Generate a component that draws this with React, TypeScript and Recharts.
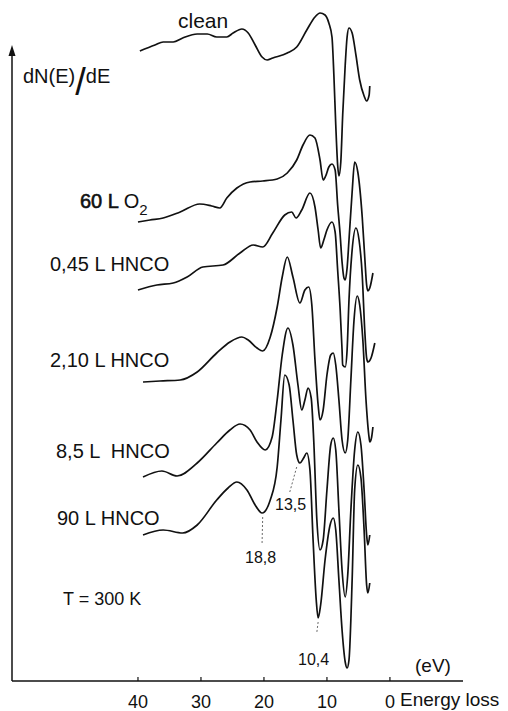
import { LineChart, Line, XAxis, YAxis, ReferenceLine, ReferenceDot } from "recharts";

type Pt = [number, number];

const FONT = "'Liberation Sans', Arial, sans-serif";
const INK = "#111";

const energyTicks = [40, 30, 20, 10, 0];

// [energy loss (eV), dN(E)/dE incl. vertical offset]
const clean: Pt[] = [
  [39.7, 630], [37.3, 636], [36.0, 639], [34.4, 639], [32.9, 643], [30.6, 647], [29.0, 647],
  [27.5, 644], [25.9, 644], [24.9, 648], [23.5, 652], [22.5, 648], [21.4, 636], [20.3, 624],
  [19.5, 621], [18.6, 623], [16.3, 628], [14.8, 634], [13.2, 651], [11.9, 664], [11.1, 668],
  [10.3, 666], [9.7, 658], [9.2, 644], [8.9, 606], [8.6, 556], [8.3, 516], [8.1, 505],
  [7.8, 519], [7.5, 566], [7.1, 616], [6.8, 644], [6.5, 653], [6.0, 648], [5.4, 626],
  [4.8, 601], [4.1, 585], [3.7, 580], [3.3, 586], [3.2, 595],
];

const o2_60L: Pt[] = [
  [40.0, 459], [38.1, 461], [36.0, 463], [33.3, 469], [30.2, 477], [28.3, 475], [27.0, 473],
  [25.9, 483], [24.3, 493], [22.2, 499], [20.2, 500], [17.9, 502], [16.3, 508], [14.8, 521],
  [13.8, 536], [12.7, 546], [11.9, 543], [11.1, 521], [10.6, 501], [10.2, 505], [9.7, 514],
  [9.2, 517], [8.7, 511], [8.3, 476], [7.9, 446], [7.6, 419], [7.3, 403], [7.1, 401],
  [6.8, 413], [6.5, 441], [6.0, 489], [5.6, 519], [5.1, 509], [4.4, 464], [4.0, 424],
  [3.7, 396], [3.5, 390], [3.2, 393], [2.7, 408],
];

const hnco_045L: Pt[] = [
  [40.0, 391], [37.0, 396], [34.4, 398], [32.2, 404], [29.7, 414], [26.5, 416], [23.8, 428],
  [21.7, 436], [20.2, 434], [18.6, 448], [16.7, 466], [15.6, 469], [14.9, 463], [14.0, 471],
  [12.7, 488], [11.9, 474], [11.4, 451], [11.0, 433], [10.5, 441], [10.0, 451], [9.2, 459],
  [8.7, 449], [8.3, 411], [7.9, 371], [7.6, 331], [7.5, 316], [7.1, 314], [6.8, 331],
  [6.5, 381], [6.0, 431], [5.4, 453], [4.9, 441], [4.4, 406], [4.0, 351], [3.7, 323],
  [3.5, 319], [3.0, 323], [2.4, 338],
];

const hnco_210L: Pt[] = [
  [39.2, 299], [36.5, 300], [33.3, 301], [30.6, 309], [27.5, 328], [25.4, 339], [23.5, 344],
  [22.5, 341], [21.1, 333], [20.2, 330], [19.0, 344], [17.9, 374], [17.1, 404], [16.3, 424],
  [15.4, 404], [14.3, 378], [13.5, 391], [12.9, 394], [12.4, 376], [11.9, 321], [11.4, 276],
  [11.1, 261], [10.6, 271], [10.0, 306], [9.4, 326], [9.0, 328], [8.6, 316], [8.1, 281],
  [7.6, 241], [7.1, 228], [6.7, 241], [6.2, 301], [5.7, 361], [5.2, 385], [4.8, 376],
  [4.3, 341], [3.8, 281], [3.3, 243], [3.2, 239], [2.9, 244], [2.7, 254],
];

const hnco_85L: Pt[] = [
  [39.2, 204], [36.2, 210], [33.8, 205], [30.6, 218], [27.5, 238], [25.4, 251], [23.8, 257],
  [22.2, 251], [21.1, 239], [19.8, 231], [18.7, 244], [17.9, 281], [17.1, 326], [16.2, 353],
  [15.4, 336], [14.6, 296], [14.0, 271], [13.5, 281], [13.0, 293], [12.5, 283], [12.1, 241],
  [11.6, 161], [11.1, 131], [10.6, 141], [10.0, 191], [9.4, 236], [9.0, 243], [8.6, 231],
  [8.1, 171], [7.6, 111], [7.1, 84], [6.7, 106], [6.2, 171], [5.6, 231], [5.1, 249],
  [4.6, 236], [4.1, 191], [3.7, 146], [3.5, 136], [3.2, 146],
];

const hnco_90L: Pt[] = [
  [39.2, 146], [36.0, 151], [32.9, 148], [30.6, 156], [27.5, 181], [25.7, 193], [24.3, 199],
  [22.7, 191], [21.4, 176], [20.3, 168], [19.0, 181], [17.9, 214], [17.3, 261], [16.7, 306],
  [16.0, 296], [15.4, 261], [14.8, 226], [14.3, 218], [13.7, 223], [13.2, 228], [12.7, 211],
  [12.2, 141], [11.7, 81], [11.4, 63], [11.0, 76], [10.3, 121], [9.5, 156], [9.0, 163],
  [8.6, 151], [8.1, 101], [7.6, 51], [7.1, 19], [6.8, 13], [6.5, 21], [6.0, 101],
  [5.6, 191], [5.1, 216], [4.6, 203], [4.1, 151], [3.7, 96], [3.5, 88], [3.2, 98],
];

const spectra = [clean, o2_60L, hnco_045L, hnco_210L, hnco_85L, hnco_90L];

// dashed leaders from curve features to their labels
const leaders: Pt[][] = [
  [[14.8, 214], [15.9, 189]],
  [[20.2, 164], [20.3, 138]],
  [[11.4, 59], [11.6, 49]],
];

const toRows = (pts: Pt[]) => pts.map(([e, v]) => ({ e, v }));

const Arrow = (p: any) => (
  <path d={`M${p.cx},${p.cy} l-3.5,11 l7,0 z`} fill={INK} />
);

export default function App() {
  return (
    <div style={{ position: "absolute", left: 0, top: 0, width: 508, height: 711, background: "#fff" }}>
      <LineChart width={508} height={711} margin={{ top: 1, right: 45, bottom: 0, left: 12 }}>
        <XAxis
          type="number"
          dataKey="e"
          domain={[-11.6, 60]}
          reversed
          allowDataOverflow
          ticks={energyTicks}
          tickLine={false}
          tickSize={0}
          tickMargin={14}
          height={30}
          axisLine={{ stroke: INK, strokeWidth: 1.5 }}
          tick={{ fill: INK, fontSize: 18, fontFamily: FONT }}
        />
        <YAxis hide type="number" domain={[0, 680]} allowDataOverflow />

        <ReferenceLine
          segment={[{ x: 60, y: 0 }, { x: 60, y: 630 }]}
          stroke={INK}
          strokeWidth={1.5}
          ifOverflow="visible"
        />
        <ReferenceDot x={60} y={636} r={0} shape={Arrow} ifOverflow="visible" />

        {energyTicks.map((t) => (
          <ReferenceLine
            key={t}
            segment={[{ x: t, y: 0 }, { x: t, y: 4 }]}
            stroke={INK}
            strokeWidth={1.2}
          />
        ))}

        {leaders.map((seg, i) => (
          <ReferenceLine
            key={i}
            segment={seg.map(([x, y]) => ({ x, y }))}
            stroke="#444"
            strokeWidth={0.8}
            strokeDasharray="2 2"
          />
        ))}

        {spectra.map((pts, i) => (
          <Line
            key={i}
            data={toRows(pts)}
            dataKey="v"
            type="monotone"
            dot={false}
            stroke={INK}
            strokeWidth={1.7}
            isAnimationActive={false}
          />
        ))}
      </LineChart>

      <svg
        width={508}
        height={711}
        style={{ position: "absolute", left: 0, top: 0, pointerEvents: "none" }}
        fontFamily={FONT}
        fill={INK}
      >
        <text x={178} y={28} fontSize={21}>clean</text>
        <text x={23} y={83} fontSize={20}>
          dN(E)
          <tspan fontSize={38} dy={12}>/</tspan>
          <tspan fontSize={20} dy={-12}>dE</tspan>
        </text>
        <text x={80} y={208} fontSize={20}>
          <tspan stroke={INK} strokeWidth={0.6}>60 L</tspan> O<tspan fontSize={15} dy={7}>2</tspan>
        </text>
        <text x={50} y={271} fontSize={20}>0,45 L HNCO</text>
        <text x={50} y={367} fontSize={20}>2,10 L HNCO</text>
        <text x={56} y={458} fontSize={20} style={{ whiteSpace: "pre" }}>8,5 L  HNCO</text>
        <text x={57} y={525} fontSize={20}>90 L HNCO</text>
        <text x={63} y={605} fontSize={18}>T = 300 K</text>
        <text x={275} y={510} fontSize={16}>13,5</text>
        <text x={245} y={563} fontSize={16}>18,8</text>
        <text x={298} y={665} fontSize={16}>10,4</text>
        <text x={415} y={672} fontSize={19}>(eV)</text>
        <text x={400} y={706} fontSize={19}>Energy loss</text>
      </svg>
    </div>
  );
}
